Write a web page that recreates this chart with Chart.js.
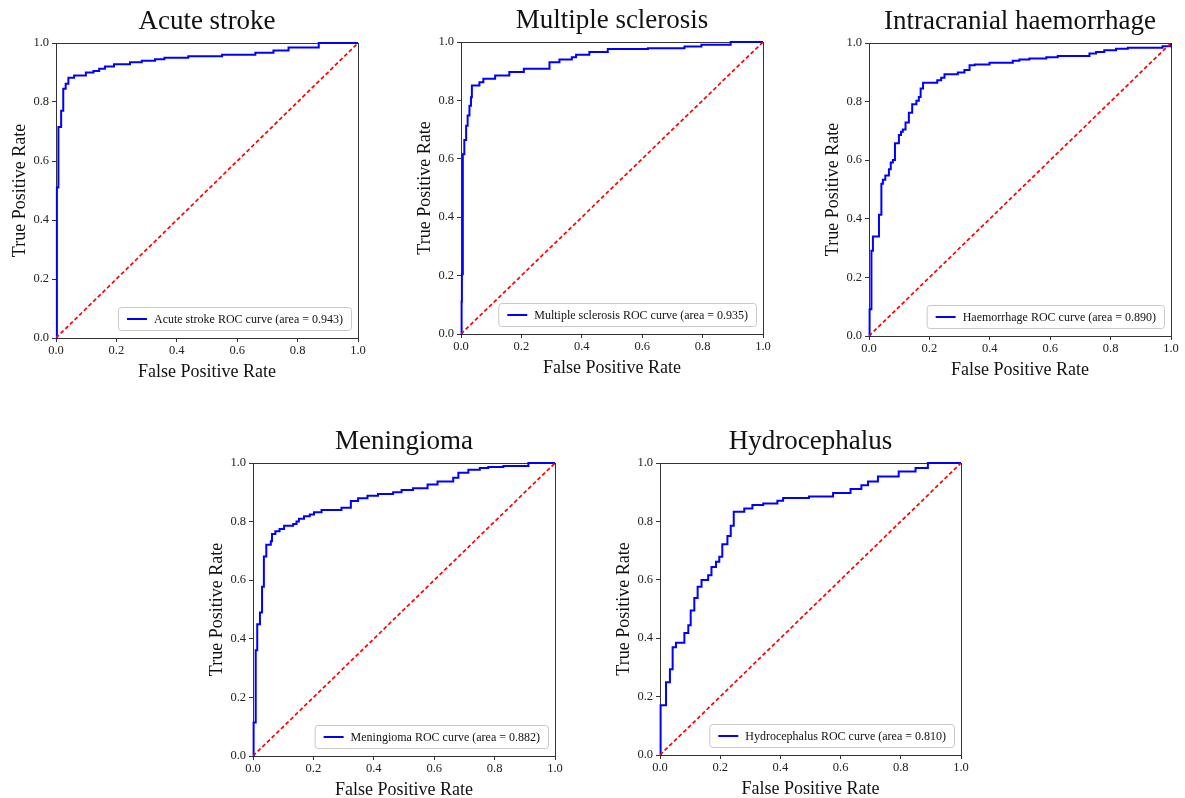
<!DOCTYPE html>
<html lang="en">
<head>
<meta charset="UTF-8">
<title>ROC curves</title>
<script src="https://cdn.jsdelivr.net/npm/chart.js"></script>
<style>
  body { margin: 0; background: #fff; }
  #figure { position: relative; width: 1185px; height: 798px; overflow: hidden; }
  .panel { position: absolute; }
</style>
</head>
<body>
<div id="figure"></div>
<script>
// shared ticks (both axes)
const tickValues = [0, 0.2, 0.4, 0.6, 0.8, 1.0];
const tickLabels = ['0.0', '0.2', '0.4', '0.6', '0.8', '1.0'];

// chance diagonal
const chanceFpr = [0, 1];
const chanceTpr = [0, 1];

const panelTitles = ['Acute stroke', 'Multiple sclerosis', 'Intracranial haemorrhage', 'Meningioma', 'Hydrocephalus'];
const curveLabels = [
    'Acute stroke ROC curve (area = 0.943)',
    'Multiple sclerosis ROC curve (area = 0.935)',
    'Haemorrhage ROC curve (area = 0.890)',
    'Meningioma ROC curve (area = 0.882)',
    'Hydrocephalus ROC curve (area = 0.810)'
];

// ROC corners: fpr where the curve steps up, tpr reached after the step
const strokeFpr = [0, 0.003, 0.008, 0.017, 0.024, 0.032, 0.041, 0.06, 0.099, 0.124, 0.143, 0.162, 0.192, 0.245, 0.284, 0.328, 0.359, 0.438, 0.55, 0.66, 0.72, 0.77, 0.87, 1.0];
const strokeTpr = [0, 0.51, 0.715, 0.77, 0.845, 0.862, 0.882, 0.89, 0.90, 0.905, 0.913, 0.92, 0.928, 0.935, 0.94, 0.945, 0.95, 0.955, 0.96, 0.967, 0.975, 0.985, 1.0, 1.0];

const msFpr = [0, 0.002, 0.003, 0.006, 0.011, 0.017, 0.022, 0.028, 0.033, 0.036, 0.061, 0.074, 0.113, 0.16, 0.208, 0.293, 0.326, 0.367, 0.381, 0.425, 0.486, 0.619, 0.74, 0.796, 0.893, 1.0];
const msTpr = [0, 0.111, 0.205, 0.616, 0.664, 0.713, 0.748, 0.782, 0.811, 0.851, 0.862, 0.874, 0.885, 0.897, 0.908, 0.931, 0.94, 0.948, 0.956, 0.966, 0.976, 0.979, 0.985, 0.991, 1.0, 1.0];

const ichFpr = [0, 0.002, 0.008, 0.013, 0.033, 0.041, 0.046, 0.054, 0.066, 0.072, 0.079, 0.086, 0.099, 0.106, 0.112, 0.121, 0.132, 0.143, 0.157, 0.165, 0.171, 0.179, 0.226, 0.239, 0.25, 0.294, 0.316, 0.333, 0.35, 0.399, 0.476, 0.498, 0.531, 0.587, 0.625, 0.73, 0.752, 0.779, 0.818, 0.857, 0.972, 1.0];
const ichTpr = [0, 0.091, 0.291, 0.34, 0.414, 0.52, 0.533, 0.548, 0.569, 0.592, 0.601, 0.658, 0.686, 0.697, 0.705, 0.729, 0.762, 0.791, 0.803, 0.816, 0.845, 0.864, 0.873, 0.881, 0.893, 0.899, 0.908, 0.924, 0.927, 0.933, 0.939, 0.944, 0.947, 0.951, 0.956, 0.964, 0.969, 0.975, 0.98, 0.984, 0.989, 1.0];

const menFpr = [0, 0.002, 0.009, 0.014, 0.023, 0.03, 0.036, 0.044, 0.059, 0.063, 0.074, 0.088, 0.103, 0.133, 0.144, 0.152, 0.169, 0.188, 0.202, 0.227, 0.293, 0.324, 0.348, 0.379, 0.414, 0.464, 0.492, 0.53, 0.578, 0.611, 0.663, 0.68, 0.713, 0.751, 0.779, 0.829, 0.912, 1.0];
const menTpr = [0, 0.114, 0.361, 0.45, 0.49, 0.578, 0.681, 0.721, 0.733, 0.758, 0.767, 0.775, 0.786, 0.792, 0.8, 0.81, 0.818, 0.824, 0.832, 0.84, 0.847, 0.87, 0.88, 0.888, 0.894, 0.9, 0.908, 0.914, 0.927, 0.937, 0.95, 0.967, 0.977, 0.983, 0.986, 0.99, 1.0, 1.0];

const hydFpr = [0, 0.002, 0.02, 0.033, 0.042, 0.053, 0.081, 0.094, 0.102, 0.114, 0.125, 0.138, 0.16, 0.171, 0.186, 0.197, 0.207, 0.224, 0.235, 0.245, 0.28, 0.307, 0.343, 0.39, 0.409, 0.495, 0.575, 0.633, 0.669, 0.691, 0.724, 0.793, 0.849, 0.89, 1.0];
const hydTpr = [0, 0.17, 0.249, 0.294, 0.369, 0.384, 0.418, 0.444, 0.495, 0.538, 0.576, 0.599, 0.616, 0.644, 0.662, 0.679, 0.722, 0.75, 0.785, 0.833, 0.844, 0.856, 0.861, 0.871, 0.88, 0.885, 0.897, 0.911, 0.924, 0.937, 0.954, 0.971, 0.983, 1.0, 1.0];

const curves = [
    [strokeFpr, strokeTpr],
    [msFpr, msTpr],
    [ichFpr, ichTpr],
    [menFpr, menTpr],
    [hydFpr, hydTpr]
];

// where each plot area sits on the page: left, top, right, bottom
const panelBoxes = [
    [56, 43, 358, 338],
    [461, 42, 763, 334],
    [869, 43, 1171, 336],
    [253, 463, 555, 756],
    [660, 463, 961, 755]
];
// room around the plot area inside each canvas
const margin = { left: 56, top: 43, right: 15, bottom: 48 };

Chart.defaults.font.family = "'Liberation Serif', 'Times New Roman', serif";
Chart.defaults.color = '#111';

const frameColor = '#333';

// full box around the plot area, like matplotlib spines (under the curves)
const axesFrame = {
    id: 'axesFrame',
    beforeDatasetsDraw(chart) {
        const { ctx, chartArea: a } = chart;
        ctx.save();
        ctx.strokeStyle = frameColor;
        ctx.lineWidth = 1;
        ctx.strokeRect(Math.round(a.left) + 0.5, Math.round(a.top) + 0.5,
            Math.round(a.right - a.left), Math.round(a.bottom - a.top));
        ctx.restore();
    }
};

// legend box in the lower right corner of the plot area
const cornerLegend = {
    id: 'cornerLegend',
    afterDraw(chart) {
        const { ctx, chartArea: a } = chart;
        const ds = chart.data.datasets.find(d => d.inLegend);
        if (!ds) return;
        ctx.save();
        ctx.font = "12px 'Liberation Serif', 'Times New Roman', serif";
        const tw = ctx.measureText(ds.label).width;
        const h = 23, w = 9 + 20 + 7 + tw + 8;
        const x = a.right - 7 - w, y = a.bottom - 8 - h;
        ctx.beginPath();
        ctx.roundRect(x + 0.5, y + 0.5, w, h, 3);
        ctx.fillStyle = 'rgba(255,255,255,0.85)';
        ctx.fill();
        ctx.strokeStyle = '#c8c8c8';
        ctx.lineWidth = 1;
        ctx.stroke();
        ctx.beginPath();
        ctx.moveTo(x + 9, y + h / 2 + 0.5);
        ctx.lineTo(x + 29, y + h / 2 + 0.5);
        ctx.strokeStyle = ds.borderColor;
        ctx.lineWidth = ds.borderWidth;
        ctx.stroke();
        ctx.fillStyle = '#111';
        ctx.textBaseline = 'middle';
        ctx.fillText(ds.label, x + 36, y + h / 2 + 1);
        ctx.restore();
    }
};

function axisOptions(title, horizontal) {
    return {
        type: 'linear',
        min: 0,
        max: 1,
        afterBuildTicks: s => { s.ticks = tickValues.map(v => ({ value: v })); },
        afterFit: s => {
            if (horizontal) s.height = margin.bottom;
            else s.width = margin.left;
        },
        ticks: {
            font: { size: 12.5 },
            color: '#222',
            padding: horizontal ? 1 : 3,
            maxRotation: 0,
            callback: (v, i) => tickLabels[i]
        },
        grid: {
            drawOnChartArea: false,
            drawTicks: true,
            tickLength: 4,
            tickColor: frameColor
        },
        border: { display: true, color: frameColor, width: 1 },
        title: {
            display: true,
            text: title,
            font: { size: 18 },
            color: '#111',
            padding: horizontal ? { top: 0, bottom: 3 } : { top: 9, bottom: 0 }
        }
    };
}

const figure = document.getElementById('figure');

panelBoxes.forEach((box, i) => {
    const [l, t, r, b] = box;
    const div = document.createElement('div');
    div.className = 'panel';
    div.style.left = (l - margin.left) + 'px';
    div.style.top = (t - margin.top) + 'px';
    div.style.width = (r - l + margin.left + margin.right) + 'px';
    div.style.height = (b - t + margin.top + margin.bottom) + 'px';
    const canvas = document.createElement('canvas');
    div.appendChild(canvas);
    figure.appendChild(div);

    const [fpr, tpr] = curves[i];

    new Chart(canvas, {
        type: 'scatter',
        data: {
            datasets: [
                {
                    label: 'chance',
                    data: chanceFpr.map((x, k) => ({ x, y: chanceTpr[k] })),
                    showLine: true,
                    borderColor: '#ff0000',
                    borderWidth: 1.7,
                    borderDash: [4, 2.5],
                    pointRadius: 0
                },
                {
                    label: curveLabels[i],
                    inLegend: true,
                    data: fpr.map((x, k) => ({ x, y: tpr[k] })),
                    showLine: true,
                    // horizontal run first, then the jump at the point's fpr
                    stepped: 'before',
                    clip: 3,
                    borderColor: '#0000ff',
                    borderWidth: 2,
                    pointRadius: 0
                }
            ]
        },
        options: {
            responsive: true,
            maintainAspectRatio: false,
            animation: false,
            layout: { padding: { left: 0, top: 0, right: margin.right, bottom: 0 } },
            plugins: {
                legend: { display: false },
                tooltip: { enabled: false },
                title: {
                    display: true,
                    text: panelTitles[i],
                    fullSize: false,
                    font: { size: 27, weight: 'normal' },
                    color: '#111',
                    padding: { top: 6, bottom: margin.top - 6 - 27 * 1.2 }
                }
            },
            scales: {
                x: axisOptions('False Positive Rate', true),
                y: axisOptions('True Positive Rate', false)
            }
        },
        plugins: [axesFrame, cornerLegend]
    });
});
</script>
</body>
</html>
